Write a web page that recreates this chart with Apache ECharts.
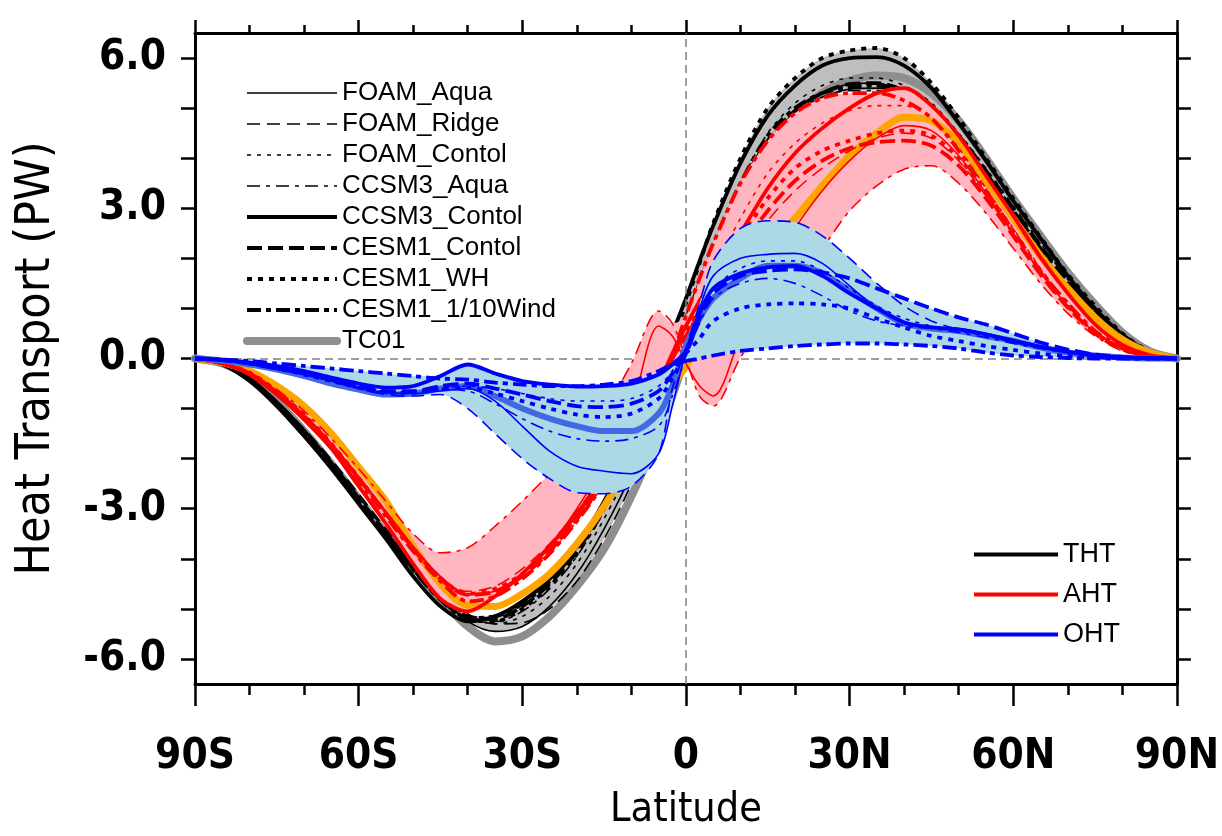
<!DOCTYPE html>
<html><head><meta charset="utf-8">
<script src="https://cdn.jsdelivr.net/npm/echarts@6/dist/echarts.min.js"></script>
<style>html,body{margin:0;padding:0;background:#fff}#c{width:1222px;height:836px}</style>
</head><body><div id="c"></div>
<script>
// ---------------- data ----------------
const lat = [-90,-85,-80,-75,-70,-65,-60,-55,-50,-45,-40,-35,-30,-25,-20,-15,-10,-5,-2.5,0,2.5,5,10,15,20,25,30,35,40,45,50,55,60,65,70,75,80,85,90];
const xTickVals = [-90,-60,-30,0,30,60,90];
const xTickLabels = ['90S','60S','30S','0','30N','60N','90N'];
const yTickVals = [-6,-5,-4,-3,-2,-1,0,1,2,3,4,5,6];
const yLabelVals = [-6,-3,0,3,6];
const models = ['FOAM_Aqua','FOAM_Ridge','FOAM_Contol','CCSM3_Aqua','CCSM3_Contol','CESM1_Contol','CESM1_WH','CESM1_1/10Wind'];

// Total heat transport (THT)
const tht_FOAM_Aqua      = [0,-0.1,-0.38,-0.85,-1.42,-2.05,-2.75,-3.45,-4.1,-4.75,-5.25,-5.45,-5.35,-4.95,-4.3,-3.4,-2.3,-0.9,-0.2, 0.5,1.2,1.9,3.2,4.2,4.85,5.2,5.38,5.4,5.3,5.0,4.45,3.7,2.92,2.15,1.45,0.88,0.4,0.1,0];
const tht_FOAM_Ridge     = [0,-0.1,-0.38,-0.85,-1.4,-2.02,-2.7,-3.4,-4.05,-4.65,-5.1,-5.3,-5.28,-5.0,-4.45,-3.6,-2.5,-1.1,-0.3, 0.45,1.2,1.95,3.3,4.3,4.95,5.3,5.48,5.5,5.3,4.95,4.35,3.62,2.85,2.1,1.42,0.85,0.4,0.1,0];
const tht_FOAM_Contol    = [0,-0.1,-0.4,-0.88,-1.46,-2.1,-2.8,-3.5,-4.15,-4.75,-5.15,-5.3,-5.15,-4.75,-4.1,-3.2,-2.1,-0.75,0.0, 0.7,1.45,2.2,3.5,4.5,5.1,5.45,5.6,5.6,5.45,5.1,4.5,3.8,3.05,2.3,1.58,0.97,0.46,0.13,0];
const tht_CCSM3_Aqua     = [0,-0.1,-0.4,-0.88,-1.45,-2.1,-2.8,-3.5,-4.15,-4.75,-5.15,-5.25,-5.05,-4.6,-3.95,-3.05,-2.0,-0.7,0.0, 0.7,1.4,2.1,3.3,4.3,4.9,5.22,5.35,5.35,5.25,4.95,4.4,3.65,2.88,2.12,1.45,0.88,0.42,0.11,0];
const tht_CCSM3_Contol   = [0,-0.12,-0.45,-0.95,-1.55,-2.2,-2.9,-3.6,-4.35,-4.95,-5.25,-5.15,-4.85,-4.4,-3.75,-2.85,-1.75,-0.25,0.5, 1.2,1.95,2.65,3.9,4.85,5.45,5.85,6.0,6.02,5.85,5.4,4.7,3.95,3.15,2.4,1.65,1.0,0.48,0.13,0];
const tht_CESM1_Contol   = [0,-0.1,-0.4,-0.88,-1.45,-2.1,-2.8,-3.5,-4.2,-4.8,-5.15,-5.2,-4.95,-4.5,-3.85,-2.95,-1.9,-0.6,0.1, 0.8,1.5,2.2,3.4,4.35,4.95,5.3,5.48,5.5,5.35,5.0,4.45,3.75,3.0,2.25,1.55,0.95,0.45,0.12,0];
const tht_CESM1_WH       = [0,-0.1,-0.4,-0.88,-1.45,-2.1,-2.8,-3.5,-4.2,-4.8,-5.2,-5.25,-5.0,-4.55,-3.9,-3.0,-1.9,-0.5,0.3, 1.1,1.9,2.7,4.0,5.0,5.6,6.0,6.15,6.2,6.0,5.5,4.8,4.0,3.2,2.42,1.68,1.05,0.5,0.14,0];
const tht_CESM1_10Wind   = [0,-0.1,-0.42,-0.9,-1.48,-2.12,-2.82,-3.52,-4.22,-4.82,-5.18,-5.15,-4.9,-4.45,-3.8,-2.95,-1.95,-0.7,0.0, 0.75,1.5,2.25,3.5,4.45,5.0,5.3,5.42,5.45,5.3,4.95,4.4,3.7,2.95,2.2,1.5,0.92,0.43,0.12,0];
const tht_TC01           = [0,-0.1,-0.38,-0.85,-1.45,-2.1,-2.8,-3.5,-4.15,-4.8,-5.35,-5.65,-5.55,-5.15,-4.55,-3.8,-2.75,-1.5,-0.75, 0.05,0.85,1.6,3.0,4.1,4.85,5.3,5.55,5.65,5.6,5.3,4.75,4.0,3.2,2.45,1.72,1.08,0.52,0.15,0];

// Atmospheric heat transport (AHT)
const aht_FOAM_Aqua      = [0,-0.09,-0.28,-0.65,-1.12,-1.7,-2.35,-3.05,-3.75,-4.35,-4.7,-4.65,-4.3,-3.75,-3.0,-2.1,-1.0,0.65,0.45, -0.1,-0.55,-0.75,0.45,1.65,2.6,3.35,3.95,4.4,4.65,4.55,4.05,3.3,2.5,1.72,1.05,0.52,0.2,0.05,0];
const aht_FOAM_Ridge     = [0,-0.1,-0.3,-0.68,-1.15,-1.72,-2.4,-3.1,-3.8,-4.38,-4.65,-4.55,-4.2,-3.7,-3.05,-2.3,-1.45,-0.45,0.05, 0.5,0.9,1.3,2.0,2.75,3.35,3.8,4.15,4.4,4.5,4.4,3.95,3.25,2.5,1.72,1.05,0.52,0.2,0.05,0];
const aht_FOAM_Contol    = [0,-0.09,-0.28,-0.65,-1.12,-1.7,-2.35,-3.05,-3.75,-4.35,-4.72,-4.7,-4.4,-3.9,-3.25,-2.5,-1.6,-0.6,0.0, 0.6,1.2,1.75,2.8,3.7,4.3,4.7,4.95,5.05,5.05,4.8,4.2,3.4,2.6,1.8,1.1,0.55,0.2,0.05,0];
const aht_CCSM3_Aqua     = [0,-0.09,-0.28,-0.62,-1.05,-1.6,-2.2,-2.85,-3.5,-3.88,-3.78,-3.35,-2.85,-2.3,-1.75,-1.05,-0.1,0.95,0.7, 0.0,-0.75,-0.95,0.02,0.8,1.5,2.2,2.95,3.45,3.78,3.85,3.5,2.9,2.2,1.5,0.9,0.45,0.15,0.03,0];
const aht_CCSM3_Contol   = [0,-0.1,-0.32,-0.72,-1.22,-1.8,-2.55,-3.3,-4.1,-4.8,-5.05,-4.75,-4.3,-3.75,-3.1,-2.35,-1.5,-0.5,0.1, 0.65,1.15,1.6,2.5,3.4,4.1,4.6,5.0,5.3,5.4,5.05,4.45,3.65,2.85,2.02,1.3,0.68,0.27,0.07,0];
const aht_CESM1_Contol   = [0,-0.09,-0.3,-0.68,-1.15,-1.72,-2.4,-3.1,-3.8,-4.4,-4.72,-4.65,-4.35,-3.85,-3.2,-2.45,-1.6,-0.55,0.0, 0.45,0.9,1.35,2.2,2.95,3.55,3.95,4.2,4.32,4.35,4.25,3.85,3.2,2.45,1.68,1.02,0.5,0.18,0.05,0];
const aht_CESM1_WH       = [0,-0.09,-0.28,-0.65,-1.12,-1.7,-2.38,-3.1,-3.8,-4.4,-4.7,-4.6,-4.3,-3.8,-3.15,-2.4,-1.55,-0.55,0.0, 0.5,1.0,1.5,2.4,3.2,3.8,4.15,4.35,4.5,4.55,4.45,4.0,3.3,2.5,1.72,1.05,0.52,0.2,0.05,0];
const aht_CESM1_10Wind   = [0,-0.1,-0.3,-0.7,-1.18,-1.75,-2.45,-3.15,-3.85,-4.45,-4.85,-4.75,-4.4,-3.9,-3.25,-2.5,-1.65,-0.65,0.05, 0.85,1.6,2.3,3.5,4.35,4.9,5.2,5.3,5.3,5.15,4.8,4.15,3.35,2.55,1.75,1.1,0.55,0.22,0.06,0];
const aht_TC01           = [0,-0.08,-0.25,-0.55,-0.95,-1.5,-2.17,-2.85,-3.75,-4.5,-4.93,-4.95,-4.7,-4.3,-3.7,-2.95,-2.0,-1.0,-0.55, -0.15,0.3,0.7,1.5,2.15,2.8,3.45,4.05,4.5,4.82,4.75,4.3,3.55,2.8,2.05,1.4,0.82,0.38,0.12,0];

// Ocean heat transport (OHT)
const oht_FOAM_Aqua      = [0,-0.04,-0.12,-0.22,-0.32,-0.45,-0.58,-0.68,-0.7,-0.65,-0.6,-0.85,-1.35,-1.85,-2.15,-2.25,-2.3,-1.9,-0.95, 0.15,1.0,1.65,2.0,2.08,2.1,1.9,1.45,1.0,0.7,0.62,0.6,0.5,0.38,0.25,0.15,0.07,0.03,0.01,0];
const oht_FOAM_Ridge     = [0,-0.03,-0.1,-0.2,-0.3,-0.45,-0.6,-0.72,-0.75,-0.72,-1.0,-1.5,-2.0,-2.4,-2.68,-2.7,-2.55,-1.9,-0.6, 0.2,1.1,1.95,2.6,2.75,2.72,2.45,2.0,1.5,1.05,0.75,0.58,0.47,0.36,0.25,0.15,0.07,0.03,0.01,0];
const oht_FOAM_Contol    = [0,-0.03,-0.1,-0.2,-0.3,-0.42,-0.55,-0.65,-0.66,-0.6,-0.55,-0.6,-0.7,-0.8,-0.85,-0.85,-0.8,-0.55,-0.25, 0.15,0.85,1.4,1.8,1.95,1.95,1.75,1.4,1.05,0.8,0.65,0.55,0.45,0.33,0.22,0.13,0.06,0.02,0.01,0];
const oht_CCSM3_Aqua     = [0,-0.03,-0.1,-0.2,-0.32,-0.45,-0.6,-0.7,-0.7,-0.62,-0.65,-0.9,-1.2,-1.45,-1.6,-1.65,-1.6,-1.35,-0.75, 0.05,0.7,1.2,1.5,1.6,1.5,1.25,0.95,0.75,0.65,0.6,0.52,0.42,0.3,0.2,0.12,0.06,0.02,0,0];
const oht_CCSM3_Contol   = [0,-0.03,-0.08,-0.15,-0.25,-0.38,-0.5,-0.58,-0.55,-0.35,-0.12,-0.3,-0.45,-0.52,-0.56,-0.55,-0.5,-0.32,-0.12, 0.15,0.9,1.4,1.7,1.82,1.85,1.65,1.3,1.0,0.72,0.62,0.58,0.48,0.35,0.23,0.13,0.06,0.02,0.01,0];
const oht_CESM1_Contol   = [0,-0.03,-0.1,-0.2,-0.3,-0.42,-0.55,-0.65,-0.65,-0.55,-0.5,-0.6,-0.72,-0.85,-0.95,-0.97,-0.9,-0.65,-0.3, 0.1,0.8,1.3,1.65,1.75,1.78,1.72,1.6,1.4,1.2,1.0,0.82,0.68,0.5,0.32,0.18,0.08,0.03,0.01,0];
const oht_CESM1_WH       = [0,-0.03,-0.1,-0.2,-0.32,-0.45,-0.58,-0.68,-0.68,-0.6,-0.58,-0.7,-0.85,-1.0,-1.12,-1.17,-1.1,-0.8,-0.4, 0.1,0.4,0.75,1.0,1.08,1.1,1.08,1.0,0.8,0.62,0.45,0.35,0.25,0.17,0.1,0.05,0.02,0.01,0,0];
const oht_CESM1_10Wind   = [0,-0.02,-0.05,-0.1,-0.15,-0.2,-0.25,-0.3,-0.35,-0.4,-0.42,-0.48,-0.52,-0.55,-0.55,-0.52,-0.45,-0.25,-0.12, -0.05,0.0,0.06,0.15,0.2,0.25,0.28,0.3,0.3,0.28,0.25,0.2,0.12,0.06,0.03,0.01,0,0,0,0];
const oht_TC01           = [0,-0.04,-0.12,-0.22,-0.35,-0.5,-0.62,-0.72,-0.7,-0.6,-0.55,-0.75,-1.0,-1.2,-1.35,-1.45,-1.45,-1.1,-0.55, 0.25,0.8,1.2,1.6,1.85,1.85,1.7,1.35,1.0,0.7,0.6,0.55,0.45,0.35,0.22,0.12,0.06,0.02,0,0];

// ---------------- styles ----------------
const modelStyle = {
  'FOAM_Aqua':      {width:1.6, type:'solid'},
  'FOAM_Ridge':     {width:1.6, type:[13,7]},
  'FOAM_Contol':    {width:1.6, type:[4,6]},
  'CCSM3_Aqua':     {width:1.6, type:[13,6,4,6]},
  'CCSM3_Contol':   {width:3.8, type:'solid'},
  'CESM1_Contol':   {width:3.8, type:[15,6]},
  'CESM1_WH':       {width:3.8, type:[5,6]},
  'CESM1_1/10Wind': {width:3.8, type:[14,5,5,5]}
};
const THT = [tht_FOAM_Aqua,tht_FOAM_Ridge,tht_FOAM_Contol,tht_CCSM3_Aqua,tht_CCSM3_Contol,tht_CESM1_Contol,tht_CESM1_WH,tht_CESM1_10Wind];
const AHT = [aht_FOAM_Aqua,aht_FOAM_Ridge,aht_FOAM_Contol,aht_CCSM3_Aqua,aht_CCSM3_Contol,aht_CESM1_Contol,aht_CESM1_WH,aht_CESM1_10Wind];
const OHT = [oht_FOAM_Aqua,oht_FOAM_Ridge,oht_FOAM_Contol,oht_CCSM3_Aqua,oht_CCSM3_Contol,oht_CESM1_Contol,oht_CESM1_WH,oht_CESM1_10Wind];

const NARROW = '"Liberation Sans Narrow","DejaVu Sans Condensed","Liberation Sans",Arial,sans-serif';
const REG = '"Liberation Sans",Arial,Helvetica,sans-serif';
const SMOOTH = 0.3;

const pts = arr => lat.map((x,i)=>[x,arr[i]]);
function line(name, arr, color, st, z){
  return {type:'line', name, data:pts(arr), symbol:'none', showSymbol:false, smooth:SMOOTH, color,
    lineStyle:{color, width:st.width, type:st.type, cap:st.cap||'butt'}, z, silent:true};
}
// band between min and max of the model curves: stacked on the y (value) dimension
function band(id, arrs, color, z){
  const lo = lat.map((_,i)=>Math.min(...arrs.map(a=>a[i])));
  const hi = lat.map((_,i)=>Math.max(...arrs.map(a=>a[i])));
  const common = {type:'line', stack:id, stackStrategy:'all', symbol:'none', smooth:SMOOTH,
                  encode:{x:1, y:0}, lineStyle:{width:0, opacity:0}, z, silent:true};
  return [
    Object.assign({}, common, {name:id+'_lo', data:lat.map((x,i)=>[lo[i], x])}),
    Object.assign({}, common, {name:id+'_hi', data:lat.map((x,i)=>[hi[i]-lo[i], x]), areaStyle:{color, opacity:1}})
  ];
}

const series = [];
series.push({type:'line', name:'zero', data:[], symbol:'none', z:1, silent:true,
  markLine:{silent:true, symbol:'none', label:{show:false}, animation:false,
    lineStyle:{color:'#808080', width:1.5, type:[8,5]}, data:[{yAxis:0},{xAxis:0}]}});
series.push(...band('thtBand', THT, '#BEBEBE', 2));
series.push(line('TC01', tht_TC01, '#8E8E8E', {width:8, type:'solid', cap:'round'}, 3));
models.forEach((m,k)=>series.push(line(m, THT[k], '#000000', modelStyle[m], 4)));
series.push(...band('ahtBand', AHT, '#FFB6C1', 5));
series.push(line('TC01_AHT', aht_TC01, '#FFA500', {width:7, type:'solid', cap:'round'}, 6));
models.forEach((m,k)=>series.push(line('AHT_'+m, AHT[k], '#FF0000', modelStyle[m], 7)));
series.push(...band('ohtBand', OHT, '#ADD8E6', 8));
series.push(line('TC01_OHT', oht_TC01, '#4169E1', {width:6, type:'solid', cap:'round'}, 9));
models.forEach((m,k)=>series.push(line('OHT_'+m, OHT[k], '#0000FF', modelStyle[m], 10)));
series.push({type:'line', name:'THT', data:[], symbol:'none', color:'#000000', lineStyle:{width:4}});
series.push({type:'line', name:'AHT', data:[], symbol:'none', color:'#FF0000', lineStyle:{width:4}});
series.push({type:'line', name:'OHT', data:[], symbol:'none', color:'#0000FF', lineStyle:{width:4}});

const axLine = {show:true, onZero:false, lineStyle:{color:'#000', width:3}};
const tickStyle = {color:'#000', width:2.5};
const hideSym = {color:'rgba(0,0,0,0)', borderWidth:0, opacity:0};

const option = {
  animation:false,
  backgroundColor:'#fff',
  grid:{left:195, right:42, top:33, bottom:148, containLabel:false},
  legend:[
    {data: models.map(m=>({name:m, itemStyle:hideSym, lineStyle:{color:'#000', width:modelStyle[m].width, type:modelStyle[m].type}}))
            .concat([{name:'TC01', itemStyle:hideSym, lineStyle:{color:'#8E8E8E', width:8, type:'solid', cap:'round'}}]),
     orient:'vertical', left:238, top:75, itemWidth:90, itemHeight:14, itemGap:5, selectedMode:false, z:20,
     itemStyle:hideSym,
     textStyle:{fontSize:26, fontFamily:REG, color:'#000'}},
    {data:[{name:'THT', itemStyle:hideSym, lineStyle:{width:4, color:'#000'}},
           {name:'AHT', itemStyle:hideSym, lineStyle:{width:4, color:'#FF0000'}},
           {name:'OHT', itemStyle:hideSym, lineStyle:{width:4, color:'#0000FF'}}],
     orient:'vertical', left:967, top:536, itemWidth:84, itemHeight:14, itemGap:13, selectedMode:false, z:20,
     itemStyle:hideSym,
     textStyle:{fontSize:27, fontFamily:REG, color:'#000'}}
  ],
  xAxis:[
    {type:'value', position:'bottom', min:-90, max:90, interval:30,
     axisLine:axLine, axisTick:{show:true, length:22, lineStyle:tickStyle},
     minorTick:{show:true, splitNumber:3, length:11, lineStyle:tickStyle},
     splitLine:{show:false}, minorSplitLine:{show:false},
     axisLabel:{formatter:v=>xTickLabels[xTickVals.indexOf(v)], fontSize:42, fontWeight:'bold', fontFamily:NARROW, color:'#000', margin:52},
     name:'Latitude', nameLocation:'middle', nameGap:106,
     nameTextStyle:{fontSize:41, fontFamily:NARROW, color:'#000'}},
    {type:'value', position:'top', min:-90, max:90, interval:30,
     axisLine:axLine, axisTick:{show:true, length:13, lineStyle:tickStyle},
     minorTick:{show:true, splitNumber:3, length:8, lineStyle:tickStyle},
     splitLine:{show:false}, minorSplitLine:{show:false}, axisLabel:{show:false}}
  ],
  yAxis:[
    {type:'value', position:'left', min:-6.5, max:6.5,
     axisLine:axLine, axisTick:{show:true, length:14, customValues:yTickVals, lineStyle:tickStyle},
     splitLine:{show:false},
     axisLabel:{customValues:yLabelVals, formatter:v=>Number(v).toFixed(1), fontSize:42, fontWeight:'bold', fontFamily:NARROW, color:'#000', margin:29},
     name:'Heat Transport (PW)', nameLocation:'middle', nameGap:134,
     nameTextStyle:{fontSize:48, fontFamily:NARROW, color:'#000'}},
    {type:'value', position:'right', min:-6.5, max:6.5,
     axisLine:axLine, axisTick:{show:true, length:14, customValues:yTickVals, lineStyle:tickStyle},
     splitLine:{show:false}, axisLabel:{show:false}}
  ],
  series
};
const chart = echarts.init(document.getElementById('c'));
chart.setOption(option);
</script>
</body></html>
